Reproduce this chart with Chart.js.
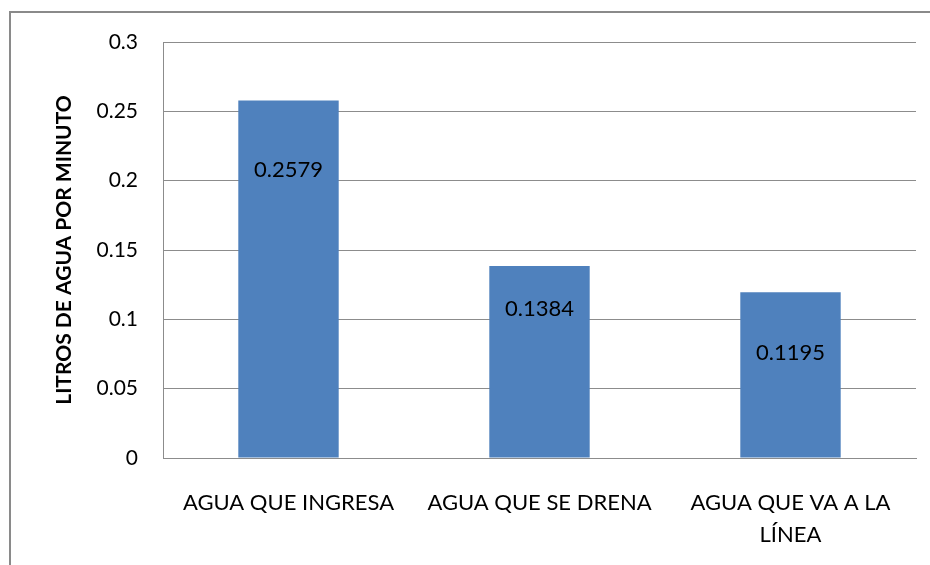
<!DOCTYPE html>
<html>
<head>
<meta charset="utf-8">
<script src="https://cdn.jsdelivr.net/npm/chart.js@4/dist/chart.umd.min.js"></script>
<style>
  html, body { margin: 0; padding: 0; background: #fff; }
  #wrap { width: 930px; height: 565px; position: relative; }
</style>
</head>
<body>
<div id="wrap"><canvas id="chart"></canvas></div>
<script>
const categories = ['AGUA QUE INGRESA', 'AGUA QUE SE DRENA', ['AGUA QUE VA A LA', 'LÍNEA']];
const values = [0.2579, 0.1384, 0.1195];
const valueLabels = ['0.2579', '0.1384', '0.1195'];
const yTicks = [0, 0.05, 0.1, 0.15, 0.2, 0.25, 0.3];

const FONT = 'Lato, "Open Sans", sans-serif';
const GRID = '#8c8c8c';

// outer chart frame (only top and left edges fall inside the picture)
const framePlugin = {
  id: 'frame',
  beforeDraw(chart) {
    const ctx = chart.ctx;
    ctx.save();
    ctx.strokeStyle = '#8a8a8a';
    ctx.lineWidth = 2;
    ctx.beginPath();
    ctx.moveTo(10, chart.height + 5);
    ctx.lineTo(10, 12);
    ctx.lineTo(chart.width + 5, 12);
    ctx.stroke();
    ctx.restore();
  }
};

// value labels drawn inside the bars
const valueLabelPlugin = {
  id: 'valueLabels',
  afterDatasetsDraw(chart, args, opts) {
    const ctx = chart.ctx;
    const meta = chart.getDatasetMeta(0);
    ctx.save();
    ctx.font = '22px ' + FONT;
    ctx.fillStyle = '#000';
    ctx.textAlign = 'center';
    ctx.textBaseline = 'middle';
    meta.data.forEach((bar, i) => {
      ctx.fillText(valueLabels[i], bar.x, bar.y + opts.offsets[i]);
    });
    ctx.restore();
  }
};

new Chart(document.getElementById('chart'), {
  type: 'bar',
  data: {
    labels: categories,
    datasets: [{
      data: values,
      backgroundColor: '#4f81bd',
      borderWidth: 0,
      categoryPercentage: 1,
      barPercentage: 0.4
    }]
  },
  options: {
    responsive: true,
    maintainAspectRatio: false,
    animation: false,
    layout: { padding: { top: 42, right: 14, left: 0, bottom: 0 } },
    plugins: {
      legend: { display: false },
      tooltip: { enabled: false },
      valueLabels: { offsets: [70, 43, 61] }
    },
    scales: {
      x: {
        grid: { display: false },
        border: { display: true, color: GRID, width: 1 },
        ticks: {
          color: '#000',
          padding: 21,
          maxRotation: 0,
          font: { family: FONT, size: 22, lineHeight: 1.45 }
        },
        afterFit(scale) { scale.height = 107; }
      },
      y: {
        min: 0,
        max: 0.3,
        afterBuildTicks(scale) { scale.ticks = yTicks.map(v => ({ value: v })); },
        grid: { color: GRID, lineWidth: 1, drawTicks: false },
        border: { display: true, color: GRID, width: 1 },
        ticks: {
          color: '#000',
          padding: 25,
          font: { family: FONT, size: 21 },
          callback: v => String(v)
        },
        title: {
          display: true,
          text: 'LITROS DE AGUA POR MINUTO',
          color: '#000',
          padding: { top: 52, bottom: 0 },
          font: { family: FONT, size: 21, weight: 'bold', lineHeight: 1.2 }
        },
        afterFit(scale) { scale.width = 163; }
      }
    }
  },
  plugins: [framePlugin, valueLabelPlugin]
});
</script>
</body>
</html>
